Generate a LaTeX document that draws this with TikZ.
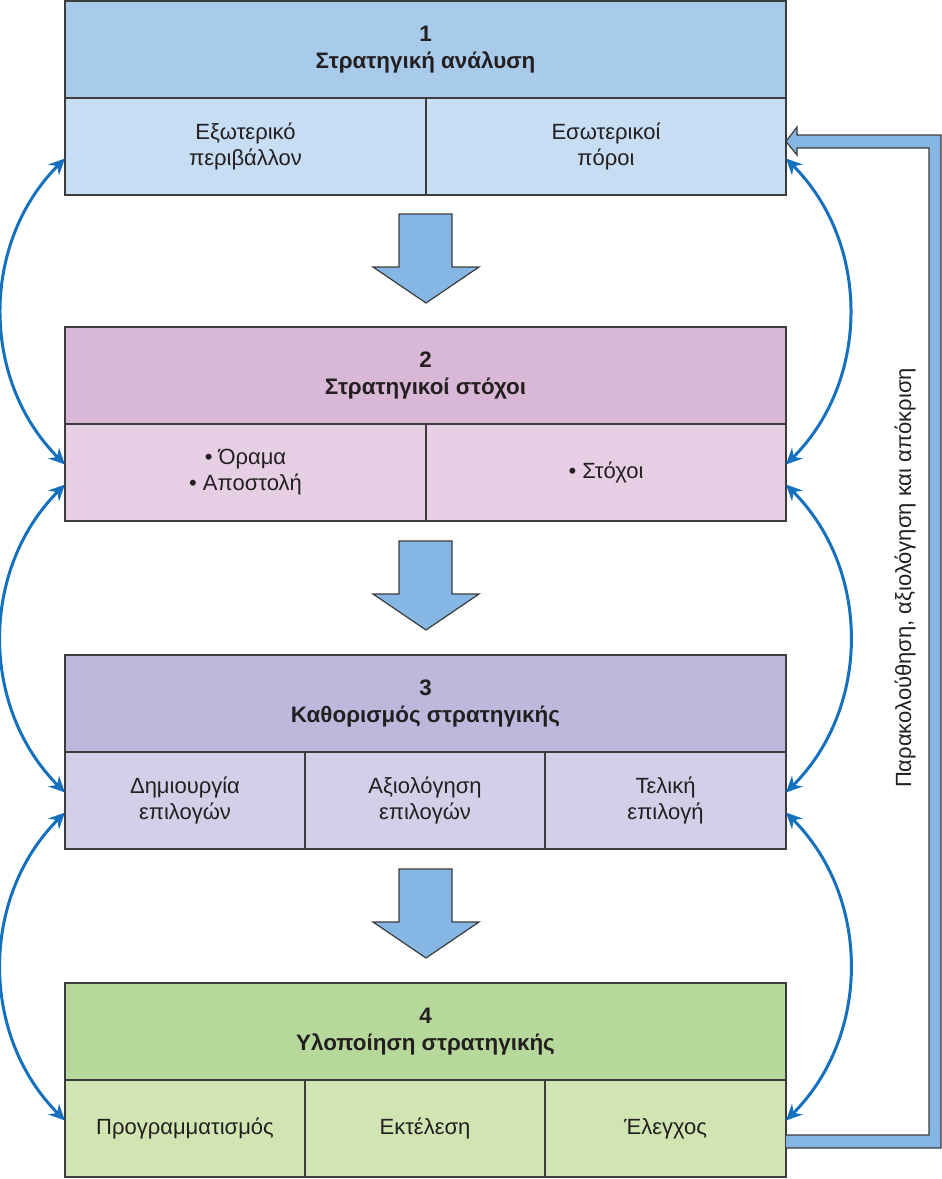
\documentclass[tikz,border=0pt]{standalone}
\usepackage{fontspec}
\setmainfont{Liberation Sans}
\usetikzlibrary{arrows.meta,calc,positioning}

\definecolor{boxline}{HTML}{3C3C3C}
\definecolor{txt}{HTML}{231F20}
\definecolor{linkblue}{HTML}{1570BD}
\definecolor{arrowblue}{HTML}{86B6E3}
\definecolor{headA}{HTML}{A9CBEB}
\definecolor{subA}{HTML}{C6DDF3}
\definecolor{headB}{HTML}{D9B7D7}
\definecolor{subB}{HTML}{E6CFE5}
\definecolor{headC}{HTML}{BDB8DC}
\definecolor{subC}{HTML}{D3CFE8}
\definecolor{headD}{HTML}{B6D89B}
\definecolor{subD}{HTML}{D0E5B1}

\tikzstyle{head}=[draw=boxline,line width=0.7pt,outer sep=0pt,minimum width=360.5pt,minimum height=48.5pt,align=center,text=txt,font=\bfseries\fontsize{11.2}{13.5}\selectfont,anchor=north west]
\tikzstyle{cell}=[draw=boxline,line width=0.7pt,outer sep=0pt,minimum height=48.5pt,align=center,text=txt,font=\fontsize{11}{13}\selectfont,anchor=north west]
\tikzstyle{link}=[draw=linkblue,line width=1.5pt,{Stealth[length=8pt,width=7.5pt]}-{Stealth[length=8pt,width=7.5pt]}]
\tikzstyle{block arrow}=[draw=boxline,line width=0.6pt,fill=arrowblue,line join=miter]
\tikzstyle{feedback}=[draw=boxline,line width=0.6pt,fill=arrowblue,line join=miter]

\begin{document}
\begin{tikzpicture}[x=0.5pt,y=-0.5pt]
  \useasboundingbox (0,0) rectangle (942,1179);

  % The four stage headers
  \foreach \pos/\name/\col/\title in {{(65,1)/h1/headA/{1\\Στρατηγική ανάλυση}},
      {(65,327)/h2/headB/{2\\Στρατηγικοί στόχοι}},
      {(65,655)/h3/headC/{3\\Καθορισμός στρατηγικής}},
      {(65,983)/h4/headD/{4\\Υλοποίηση στρατηγικής}}}
    \node[head,fill=\col] (\name) at \pos {\title};

  % Cells under each header
  \node[cell,fill=subA,minimum width=180.5pt] (c11) at (h1.south west) {Εξωτερικό\\περιβάλλον};
  \node[cell,fill=subA,minimum width=180pt] (c12) at (c11.north east) {Εσωτερικοί\\πόροι};

  \node[cell,fill=subB,minimum width=180.5pt] (c21) at (h2.south west) {• Όραμα\\• Αποστολή};
  \node[cell,fill=subB,minimum width=180pt] (c22) at (c21.north east) {• Στόχοι};

  \node[cell,fill=subC,minimum width=120pt] (c31) at (h3.south west) {Δημιουργία\\επιλογών};
  \node[cell,fill=subC,minimum width=120pt] (c32) at (c31.north east) {Αξιολόγηση\\επιλογών};
  \node[cell,fill=subC,minimum width=120.5pt] (c33) at (c32.north east) {Τελική\\επιλογή};

  \node[cell,fill=subD,minimum width=120pt] (c41) at (h4.south west) {Προγραμματισμός};
  \node[cell,fill=subD,minimum width=120pt] (c42) at (c41.north east) {Εκτέλεση};
  \node[cell,fill=subD,minimum width=120.5pt] (c43) at (c42.north east) {Έλεγχος};

  % Block arrows between the stages
  \foreach \y in {214,541,869}
    \path[block arrow] (399,\y) -- (452,\y) -- (452,\y+53) -- (479,\y+53)
      -- (426,\y+89) -- (373,\y+53) -- (399,\y+53) -- cycle;

  % Curved two-way links on both sides
  \foreach \source/\dest in {c11/c21, c21/c31, c31/c41}
    \path[link] ($(\source.west)+(0,12)$) to[bend right=45] ($(\dest.west)+(0,-8)$);
  \foreach \source/\dest in {c12/c22, c22/c33, c33/c43}
    \path[link] ($(\source.east)+(0,12)$) to[bend left=45] ($(\dest.east)+(0,-8)$);

  % Feedback from control back to the analysis
  \coordinate (fb0) at ($(c43.east)+(0,13)$);
  \coordinate (fb1) at ($(c12.east)+(0,-5)$);
  \path[feedback] ($(fb0)+(0,-6.5)$) -- ($(fb0)+(143,-6.5)$) |- ($(fb1)+(11,6.5)$)
    -- ($(fb1)+(11,13.5)$) -- (fb1) -- ($(fb1)+(11,-14.5)$) -- ($(fb1)+(11,-6.5)$)
    -| ($(fb0)+(155,6.5)$) -- ($(fb0)+(0,6.5)$);
  \node[rotate=90,text=txt,font=\fontsize{11}{13}\selectfont] (fbtext) at (905,578)
    {Παρακολούθηση, αξιολόγηση και απόκριση};
\end{tikzpicture}
\end{document}
